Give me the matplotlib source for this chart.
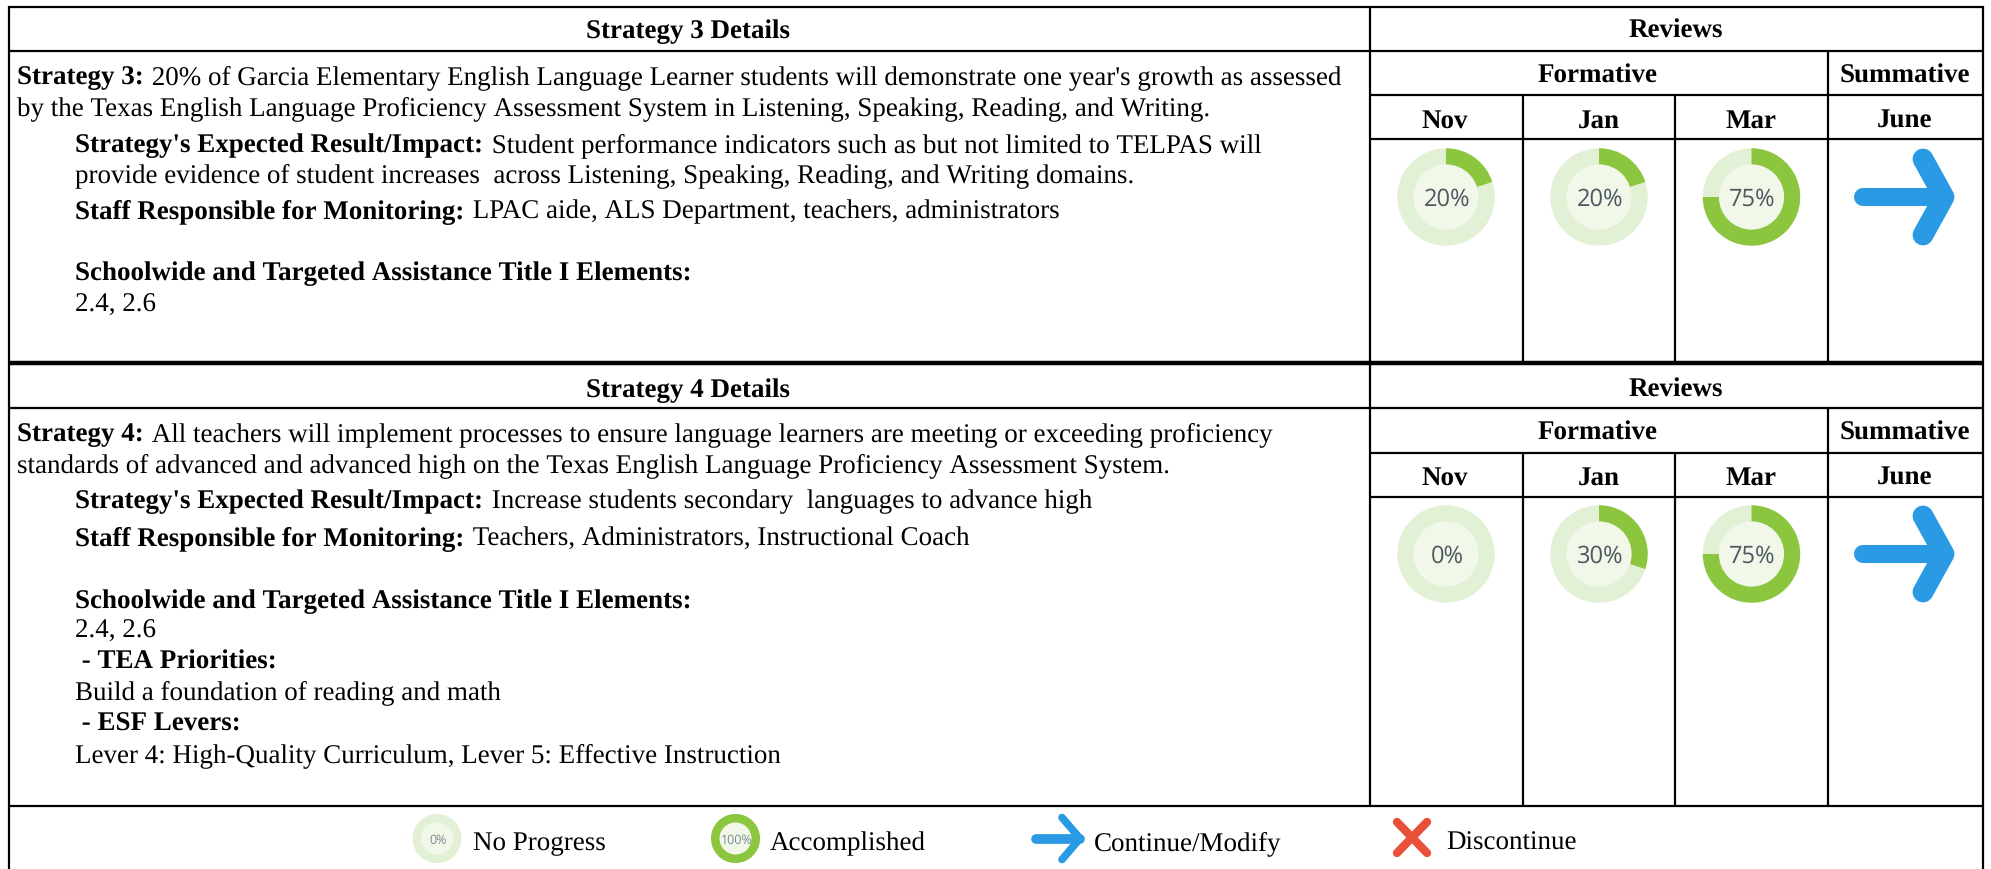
import matplotlib
matplotlib.use('Agg')
import matplotlib.pyplot as plt
from matplotlib.patches import Circle, Wedge

months = ['Nov', 'Jan', 'Mar']
strategy3_values = [20, 20, 75]
strategy4_values = [0, 30, 75]
legend_labels = ['No Progress', 'Accomplished', 'Continue/Modify', 'Discontinue']

strategy3_lines = [
    (17, 84, 'Strategy 3:', " 20% of Garcia Elementary English Language Learner students will demonstrate one year's growth as assessed"),
    (17, 115, '', 'by the Texas English Language Proficiency Assessment System in Listening, Speaking, Reading, and Writing.'),
    (75, 152, "Strategy's Expected Result/Impact:", ' Student performance indicators such as but not limited to TELPAS will'),
    (75, 182, '', 'provide evidence of student increases  across Listening, Speaking, Reading, and Writing domains.'),
    (75, 218, 'Staff Responsible for Monitoring:', ' LPAC aide, ALS Department, teachers, administrators'),
    (75, 280, 'Schoolwide and Targeted Assistance Title I Elements:', ''),
    (75, 312, '', '2.4, 2.6'),
]
strategy4_lines = [
    (17, 441, 'Strategy 4:', ' All teachers will implement processes to ensure language learners are meeting or exceeding proficiency'),
    (17, 472, '', 'standards of advanced and advanced high on the Texas English Language Proficiency Assessment System.'),
    (75, 508, "Strategy's Expected Result/Impact:", ' Increase students secondary  languages to advance high'),
    (75, 545, 'Staff Responsible for Monitoring:', ' Teachers, Administrators, Instructional Coach'),
    (75, 608, 'Schoolwide and Targeted Assistance Title I Elements:', ''),
    (75, 638, '', '2.4, 2.6'),
    (75, 669, ' - TEA Priorities:', ''),
    (75, 699, '', 'Build a foundation of reading and math'),
    (75, 731, ' - ESF Levers:', ''),
    (75, 762, '', 'Lever 4: High-Quality Curriculum, Lever 5: Effective Instruction'),
]

GREEN = '#8cc63f'
LIGHT = '#e2f0d5'
INNER = '#f1f8ea'
BLUE = '#2b9ae4'
RED = '#e8503a'
FS = 19.46
RIGHT = 1983

plt.rcParams['font.family'] = ['Liberation Serif']
plt.rcParams['text.hinting'] = 'none'
fig = plt.figure(figsize=(19.91, 8.69), dpi=100)
ax = fig.add_axes([0, 0, 1, 1])
ax.set_xlim(0, 1991)
ax.set_ylim(869, 0)
ax.axis('off')
renderer = fig.canvas.get_renderer()


def hline(y, x0=8, x1=RIGHT, lw=1.6):
    ax.plot([x0, x1], [y, y], color='black', lw=lw, solid_capstyle='butt')


def vline(x, y0, y1, lw=1.6):
    ax.plot([x, x], [y0, y1], color='black', lw=lw, solid_capstyle='butt')


def rich_line(x, y, bold, regular):
    if bold:
        t = ax.text(x, y, bold.replace(' ', '\u00a0'), fontsize=FS, fontweight='bold', va='baseline')
        x += t.get_window_extent(renderer).width + 1.5
    if regular:
        ax.text(x, y, regular.replace(' ', '\u00a0'), fontsize=FS, va='baseline')


def donut(cx, cy, value, r=48.7, r_in=32.6, fs=17, col='#4d5860'):
    ax.add_patch(Circle((cx, cy), r, color=LIGHT, lw=0))
    if value > 0:
        ax.add_patch(Wedge((cx, cy), r, -90, -90 + 360 * value / 100, color=GREEN, lw=0))
    ax.add_patch(Circle((cx, cy), r_in, color=INNER, lw=0))
    ax.text(cx + 1, cy, f'{value}%', fontsize=fs, family='Open Sans', color=col, ha='center', va='center_baseline')


def arrow(x0, tip, cy, head_x, half, lw, head_lw):
    ax.plot([x0, tip], [cy, cy], color=BLUE, lw=lw, solid_capstyle='round')
    ax.plot([head_x, tip, head_x], [cy - half, cy, cy + half], color=BLUE, lw=head_lw,
            solid_capstyle='round', solid_joinstyle='round')


def block(top, head_y, form_y, month_y, bottom, base_head, base_form, base_month, title, lines, values, donut_y):
    hline(head_y)
    hline(form_y, 1369.7, RIGHT)
    hline(month_y, 1369.7, RIGHT)
    vline(1369.7, top, bottom)
    vline(1827.7, head_y, bottom)
    for x in (1522.6, 1675):
        vline(x, form_y, bottom)
    ax.text(688, base_head, title, fontsize=FS, fontweight='bold', ha='center', va='baseline')
    ax.text(1676, base_head, 'Reviews', fontsize=FS, fontweight='bold', ha='center', va='baseline')
    ax.text(1598, base_form, 'Formative', fontsize=FS, fontweight='bold', ha='center', va='baseline')
    ax.text(1905, base_form, 'Summative', fontsize=FS, fontweight='bold', ha='center', va='baseline')
    for x, m in zip((1445, 1599, 1751), months):
        ax.text(x, base_month, m, fontsize=FS, fontweight='bold', ha='center', va='baseline')
    ax.text(1905, base_month, 'June', fontsize=FS, fontweight='bold', ha='center', va='baseline')
    for x, v in zip((1446, 1599, 1751.5), values):
        donut(x, donut_y, v)
    arrow(1863, 1944, donut_y, 1923, 38, 13, 15)
    for x, y, b, r in lines:
        rich_line(x, y, b, r)


# frame
hline(7)
hline(363, lw=3.2)
hline(806)
vline(9, 6, 869)
vline(RIGHT, 6, 869)

block(7, 51, 95, 139, 363, 38, 83, 128, 'Strategy 3 Details', strategy3_lines, strategy3_values, 197)
block(363, 408, 453, 497, 806, 397, 440, 485, 'Strategy 4 Details', strategy4_lines, strategy4_values, 554)

# legend
donut(437, 838.5, 0, r=24.5, r_in=16, fs=9, col='#7a8a90')
donut(735.5, 838.5, 100, r=24.5, r_in=16, fs=9, col='#7a8a90')
arrow(1036, 1080, 838.5, 1062, 21, 7, 5.5)
ax.plot([1397, 1427], [822, 853], color=RED, lw=6, solid_capstyle='round')
ax.plot([1427, 1397], [822, 853], color=RED, lw=6, solid_capstyle='round')
for x, lab in zip((473, 770, 1094, 1446), legend_labels):
    ax.text(x, 850, lab, fontsize=FS, va='baseline')

fig.savefig('out.png', dpi=100)
